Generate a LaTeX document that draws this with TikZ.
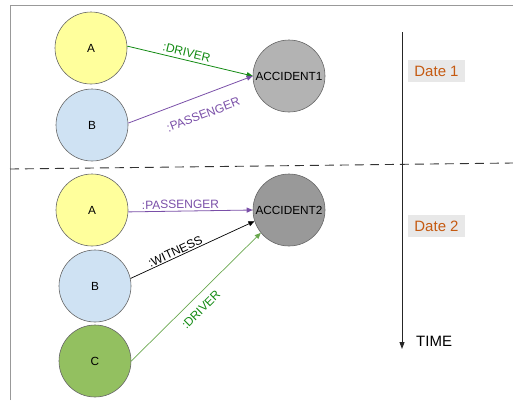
\documentclass[tikz,border=0pt]{standalone}
\usepackage{fontspec}
\setmainfont{Liberation Sans}
\usetikzlibrary{arrows.meta}
\definecolor{pyellow}{HTML}{FFFF9C}
\definecolor{pblue}{HTML}{CFE2F3}
\definecolor{pgreen}{HTML}{93C060}
\definecolor{gray1}{HTML}{B3B3B3}
\definecolor{gray2}{HTML}{999999}
\definecolor{drvgreen}{HTML}{128A12}
\definecolor{drvlight}{HTML}{6AA84F}
\definecolor{paxpurple}{HTML}{7A4FA8}
\definecolor{dateorange}{HTML}{C55A11}
\definecolor{datebg}{HTML}{E8E8E8}
\definecolor{framegray}{HTML}{999999}
\tikzset{
  person/.style={circle, draw=gray!80!black, line width=0.6pt, minimum size=72pt, inner sep=0pt, font=\fontsize{11.8}{13}\selectfont},
  event/.style={person},
  rel/.style={line width=0.8pt, -{Triangle[length=6pt,width=5pt]}},
  rellabel/.style={sloped, font=\fontsize{12}{14}\selectfont, inner sep=1pt},
  datebox/.style={fill=datebg, text=dateorange, font=\fontsize{15}{17}\selectfont, minimum width=57pt, minimum height=22pt, inner sep=0pt}
}
\begin{document}
\begin{tikzpicture}[x=1pt, y=-1pt]
\useasboundingbox (0,0) rectangle (513,400);
% outer frame (top and left edges)
\draw[framegray, line width=1pt] (10,400) -- (10,5) -- (513,5);

% first date
\node[person, fill=pyellow] (a1) at (91,48) {A};
\node[person, fill=pblue] (b1) at (92,125) {B};
\node[event, fill=gray1] (acc1) at (289,76) {ACCIDENT1};

\draw[rel, drvgreen] (a1.3) -- node[rellabel, above=2pt, pos=0.46, text=drvgreen] {:DRIVER} (acc1.west);
\draw[rel, paxpurple] (b1.3) -- node[rellabel, below=13pt, pos=0.55, text=paxpurple] {:PASSENGER} (acc1.west);

% separator between the two dates
\coordinate (sepL) at (10,169);
\coordinate (sepR) at (513,163);
\draw[black!80, line width=0.9pt, dash pattern=on 9pt off 6pt] (sepL) -- (sepR);

% second date
\node[person, fill=pyellow] (a2) at (92,210) {A};
\node[person, fill=pblue] (b2) at (95,286) {B};
\node[person, fill=pgreen] (c2) at (95,361) {C};
\node[event, fill=gray2] (acc2) at (289,210) {ACCIDENT2};

\draw[rel, paxpurple] (a2.-3) -- node[rellabel, above=1pt, pos=0.42, text=paxpurple] {:PASSENGER} (acc2.west);
\draw[rel, black, line width=0.7pt] (b2.12) -- node[rellabel, above, pos=0.38] {:WITNESS} (acc2.198);
\draw[rel, drvlight, line width=0.7pt] (c2.east) -- node[rellabel, below=7pt, pos=0.47, text=drvgreen] {:DRIVER} (acc2.219);

% time axis
\coordinate (tstart) at (402,32);
\coordinate (tend) at (402,349);
\draw[black!85, line width=0.9pt, -{Triangle[length=7pt,width=5pt]}] (tstart) -- (tend);
\node[anchor=west, font=\fontsize{15}{17}\selectfont, inner sep=0pt] (time) at (416,341) {TIME};

\node[datebox] (d1) at (436.5,71) {Date 1};
\node[datebox] (d2) at (436.5,226) {Date 2};
\end{tikzpicture}
\end{document}
